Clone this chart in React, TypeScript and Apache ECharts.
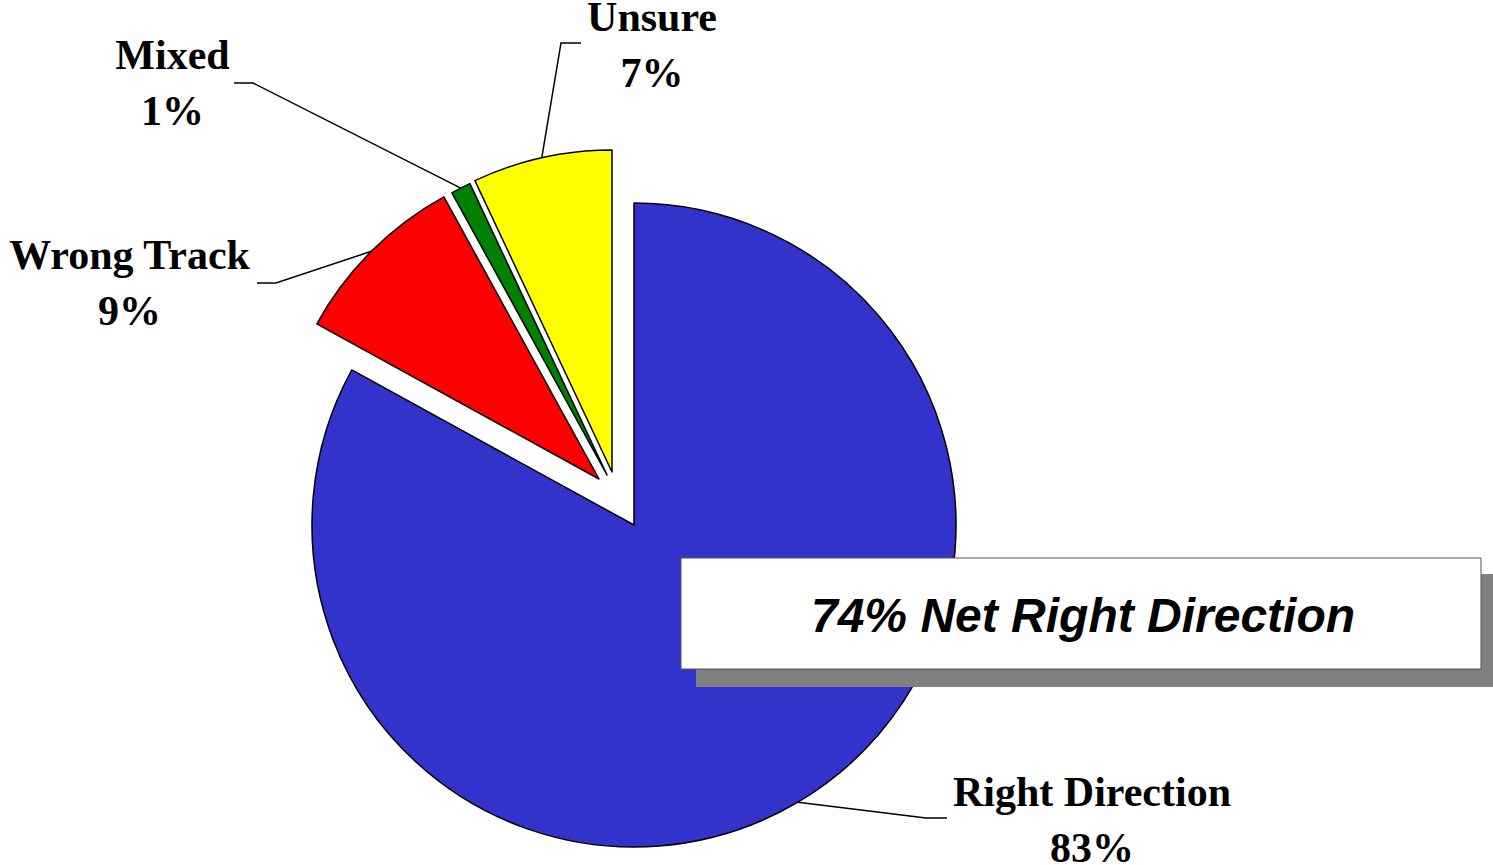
import React, { useEffect, useRef } from "react";
import * as echarts from "echarts";

// ---- data ----
const categories = ["Right Direction", "Wrong Track", "Mixed", "Unsure"];
const values = [83, 9, 1, 7];
const colors = ["#3333CC", "#FF0000", "#008000", "#FFFF00"];
const calloutText = "74% Net Right Direction";

// ---- layout ----
const W = 1493;
const H = 865;
const CENTER = [634, 525];
const RADIUS = 322;
// explosion offsets per slice (px)
const EXPLODE = [
  [0, 0],
  [-35, -46],
  [-27, -50],
  [-22, -53],
];
// label block centre, leader elbow and leader end per slice
const LABEL_LAYOUT = [
  { x: 1092, y: 820, elbow: [926, 818], end: [947, 818] },
  { x: 129.5, y: 283, elbow: [276, 283], end: [257, 283] },
  { x: 172.5, y: 83, elbow: [253, 83], end: [234, 83] },
  { x: 652, y: 45, elbow: [561, 43], end: [581, 43] },
];

const SERIF = '"Times New Roman", "Liberation Serif", serif';
const SANS = 'Arial, "Liberation Sans", sans-serif';

export default function App() {
  const ref = useRef<HTMLDivElement>(null);
  useEffect(() => {
    document.body.style.margin = "0";
    const chart = echarts.init(ref.current!, null, { renderer: "svg" });
    const total = values.reduce((a, b) => a + b, 0);
    let cum = 0;
    const mids = values.map((v) => {
      const m = ((cum + v / 2) / total) * 2 * Math.PI;
      cum += v;
      return m;
    });

    const series = categories.map((_, k) => {
      const cx = CENTER[0] + EXPLODE[k][0];
      const cy = CENTER[1] + EXPLODE[k][1];
      const anchor = [cx + RADIUS * Math.sin(mids[k]), cy - RADIUS * Math.cos(mids[k])];
      const lp = LABEL_LAYOUT[k];
      return {
        type: "pie",
        center: [cx, cy],
        radius: RADIUS,
        startAngle: 90,
        clockwise: true,
        avoidLabelOverlap: false,
        silent: true,
        z: 2,
        data: categories.map((name, i) => ({
          name,
          value: values[i],
          itemStyle:
            i === k
              ? { color: colors[i], borderColor: "#000", borderWidth: 1.5 }
              : { color: "rgba(0,0,0,0)", borderColor: "rgba(0,0,0,0)", borderWidth: 0 },
          label: { show: i === k },
          labelLine: { show: i === k },
        })),
        label: {
          position: "outside",
          formatter: (p: any) => `${p.name}\n${p.value}%`,
          fontFamily: SERIF,
          fontWeight: "bold",
          fontSize: 42,
          lineHeight: 56,
          color: "#000",
        },
        labelLine: { lineStyle: { color: "#000", width: 1.5 } },
        labelLayout: (p: any) =>
          p.dataIndex === k
            ? {
                x: lp.x,
                y: lp.y,
                align: "center",
                verticalAlign: "middle",
                labelLinePoints: [anchor, lp.elbow, lp.end],
              }
            : {},
      };
    });

    chart.setOption({
      animation: false,
      backgroundColor: "#fff",
      series,
      graphic: [
        {
          type: "rect",
          z: 100,
          silent: true,
          shape: { x: 696, y: 574, width: 801, height: 113 },
          style: { fill: "#808080" },
        },
        {
          type: "rect",
          z: 101,
          silent: true,
          shape: { x: 681, y: 558, width: 800, height: 111 },
          style: { fill: "#fff", stroke: "#555", lineWidth: 1 },
        },
        {
          type: "text",
          z: 102,
          silent: true,
          x: 1083,
          y: 615,
          style: {
            text: calloutText,
            align: "center",
            verticalAlign: "middle",
            fontFamily: SANS,
            fontWeight: "bold",
            fontStyle: "italic",
            fontSize: 48,
            fill: "#000",
          },
        },
      ],
    });
    return () => chart.dispose();
  }, []);
  return (
    <div
      ref={ref}
      style={{ position: "fixed", left: 0, top: 0, width: W, height: H }}
    />
  );
}
